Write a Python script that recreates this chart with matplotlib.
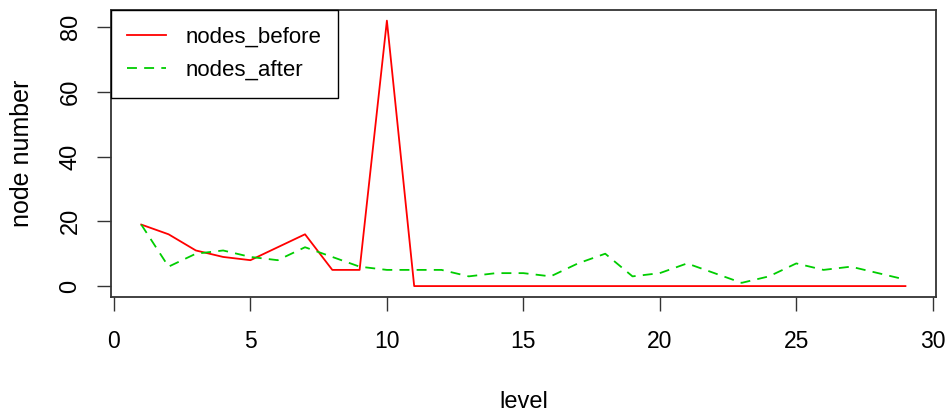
import matplotlib
matplotlib.use("Agg")
import matplotlib.pyplot as plt

plt.rcParams['font.family'] = ['Liberation Sans', 'DejaVu Sans']

levels = list(range(1, 30))
nodes_before = [19, 16, 11, 9, 8, 12, 16, 5, 5, 82, 0, 0, 0, 0, 0, 0, 0, 0, 0, 0,
                0, 0, 0, 0, 0, 0, 0, 0, 0]
nodes_after = [19, 6, 10, 11, 9, 8, 12, 9, 6, 5, 5, 5, 3, 4, 4, 3, 7, 10, 3, 4,
               7, 4, 1, 3, 7, 5, 6, 4, 2]
xticks = [0, 5, 10, 15, 20, 25, 30]
yticks = [0, 20, 40, 60, 80]

W, H = 947, 416
fig = plt.figure(figsize=(W / 100, H / 100), dpi=100)
ax = fig.add_axes([110.7 / W, 1 - 296.7 / H, (936 - 110.7) / W, (296.7 - 10) / H])

ax.plot(levels, nodes_before, color='#FF0000', lw=1.3, label='nodes_before')
ax.plot(levels, nodes_after, color='#00CD00', lw=1.3, dashes=[5.5, 4], label='nodes_after')

ax.set_xlim(-0.12, 30.12)
ax.set_ylim(-3.28, 85.28)
ax.set_xticks(xticks)
ax.set_yticks(yticks)
ax.tick_params(axis='both', length=10, width=1.0, color='#333333')
ax.tick_params(axis='x', labelsize=16.5, pad=14)
ax.tick_params(axis='y', labelsize=17, pad=11, labelrotation=90)
for lbl in ax.get_yticklabels():
    lbl.set_va('center')
for s in ax.spines.values():
    s.set_linewidth(1.3)
    s.set_color('#333333')

ax.set_xlabel('level', fontsize=17)
ax.set_ylabel('node number', fontsize=18)
ax.xaxis.set_label_coords(0.5, -0.33)
ax.yaxis.set_label_coords(-0.093, 0.5)

leg = ax.legend(loc='upper left', bbox_to_anchor=(0, 1), borderaxespad=0,
                fancybox=False, framealpha=1, edgecolor='black', fontsize=16,
                handlelength=1.75, handletextpad=0.85, borderpad=0.75,
                labelspacing=0.55)
leg.get_frame().set_linewidth(1.0)

fig.savefig('out.png', dpi=100)
